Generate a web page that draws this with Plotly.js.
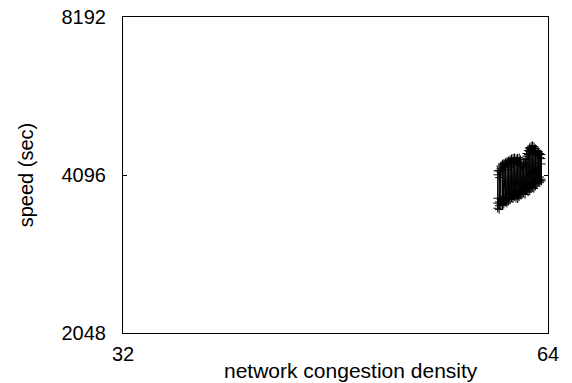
<!DOCTYPE html>
<html>
<head>
<meta charset="utf-8">
<script src="https://cdn.plot.ly/plotly-3.0.1.min.js"></script>
<style>html,body{margin:0;padding:0;background:#fff;}#chart{width:572px;height:383px;}</style>
</head>
<body>
<div id="chart"></div>
<script>
// Data (network congestion density vs speed)
const density = [
  58.95, 58.96, 58.95, 58.97, 58.96,
  59.10, 59.11, 59.10, 59.12, 59.11,
  59.25, 59.26, 59.25, 59.27, 59.26,
  59.40, 59.41, 59.40, 59.42, 59.41,
  59.55, 59.56, 59.55, 59.57, 59.56,
  59.70, 59.71, 59.70, 59.72, 59.71,
  59.85, 59.86, 59.85, 59.87, 59.86,
  60.00, 60.01, 60.00, 60.02, 60.01,
  60.15, 60.16, 60.15, 60.17, 60.16,
  60.30, 60.31, 60.30, 60.32, 60.31,
  60.45, 60.46, 60.45, 60.47, 60.46,
  60.60, 60.61, 60.60, 60.62, 60.61,
  60.75, 60.76, 60.75, 60.77, 60.76,
  60.90, 60.91, 60.90, 60.92, 60.91,
  61.05, 61.06, 61.05, 61.07, 61.06,
  61.20, 61.21, 61.20, 61.22, 61.21,
  61.35, 61.36, 61.35, 61.37, 61.36,
  61.50, 61.51, 61.50, 61.52, 61.51,
  61.65, 61.66, 61.65, 61.67, 61.66,
  61.80, 61.81, 61.80, 61.82, 61.81,
  61.95, 61.96, 61.95, 61.97, 61.96,
  62.10, 62.11, 62.10, 62.12, 62.11,
  62.25, 62.26, 62.25, 62.27, 62.26,
  62.40, 62.41, 62.40, 62.42, 62.41,
  62.55, 62.56, 62.55, 62.57, 62.56,
  62.70, 62.71, 62.70, 62.72, 62.71,
  62.85, 62.86, 62.85, 62.87, 62.86,
  63.00, 63.01, 63.00, 63.02, 63.01,
  63.15, 63.16, 63.15, 63.17, 63.16,
  63.30, 63.31, 63.30, 63.32, 63.31
];
const speed = [
  3540, 4100, 3620, 4170, 3700,
  3580, 4180, 3520, 4050, 3640,
  4220, 3600, 4260, 3680, 4150,
  4280, 3620, 4200, 3580, 4300,
  3660, 4310, 3600, 4240, 3700,
  4330, 3640, 4280, 3720, 4190,
  3680, 4300, 3620, 4350, 3760,
  4360, 3700, 4290, 3650, 4320,
  3720, 4380, 3680, 4250, 3780,
  4400, 3700, 4340, 3760, 4390,
  3740, 4410, 3690, 4300, 3800,
  4380, 3720, 4420, 3780, 4330,
  3760, 4400, 3700, 4350, 3820,
  4410, 3740, 4360, 3690, 4300,
  3780, 4420, 3720, 4340, 3800,
  4380, 3760, 4300, 3820, 4250,
  3800, 4260, 3760, 4200, 3860,
  4280, 3780, 4320, 3840, 4240,
  3820, 4380, 3760, 4300, 3880,
  4450, 3840, 4400, 3900, 4500,
  3860, 4560, 3800, 4480, 3920,
  4600, 3880, 4540, 3820, 4620,
  3900, 4650, 3860, 4580, 3960,
  4620, 3880, 4560, 3940, 4660,
  3920, 4640, 3860, 4520, 3980,
  4600, 3900, 4540, 3960, 4480,
  4000, 4560, 3940, 4500, 4020,
  4520, 3980, 4460, 4040, 4540,
  4000, 4500, 3960, 4420, 4060,
  4480, 4020, 4400, 3990, 4300
];
const xTicks = [32, 64];
const yTicks = [2048, 4096, 8192];
const xTitle = "network congestion density";
const yTitle = "speed (sec)";

const FONT = "Liberation Sans, Arial, sans-serif";

const trace = {
  x: density,
  y: speed,
  type: "scatter",
  mode: "lines+markers",
  line: {color: "#000", width: 1},
  marker: {symbol: "cross-thin-open", size: 6, color: "#000", line: {color: "#000", width: 1}},
  showlegend: false,
  hoverinfo: "x+y"
};

const axisCommon = {
  type: "log",
  showgrid: false,
  zeroline: false,
  showline: true,
  linecolor: "#000",
  linewidth: 1,
  mirror: "allticks",
  ticks: "inside",
  ticklen: 4,
  tickwidth: 1,
  tickcolor: "#000",
  tickmode: "array",
  tickfont: {family: FONT, size: 20, color: "#000"}
};

const layout = {
  width: 572,
  height: 383,
  margin: {l: 123, r: 24, t: 17, b: 50},
  paper_bgcolor: "#fff",
  plot_bgcolor: "#fff",
  font: {family: FONT, color: "#000"},
  xaxis: Object.assign({}, axisCommon, {
    range: [Math.log10(32), Math.log10(64)],
    autorange: false,
    tickvals: xTicks,
    ticktext: xTicks.map(String),
    ticklabelstandoff: 3
  }),
  yaxis: Object.assign({}, axisCommon, {
    range: [Math.log10(2048), Math.log10(8192)],
    autorange: false,
    tickvals: yTicks,
    ticktext: yTicks.map(String),
    ticklabelstandoff: 12,
    title: {text: yTitle, font: {family: FONT, size: 20, color: "#000"}, standoff: 22}
  }),
  annotations: [{
    text: xTitle,
    xref: "paper", yref: "paper",
    x: 0.536, y: -0.12,
    xanchor: "center", yanchor: "middle",
    showarrow: false,
    font: {family: FONT, size: 21, color: "#000"}
  }]
};

Plotly.newPlot("chart", [trace], layout, {displayModeBar: false, staticPlot: true});
</script>
</body>
</html>
